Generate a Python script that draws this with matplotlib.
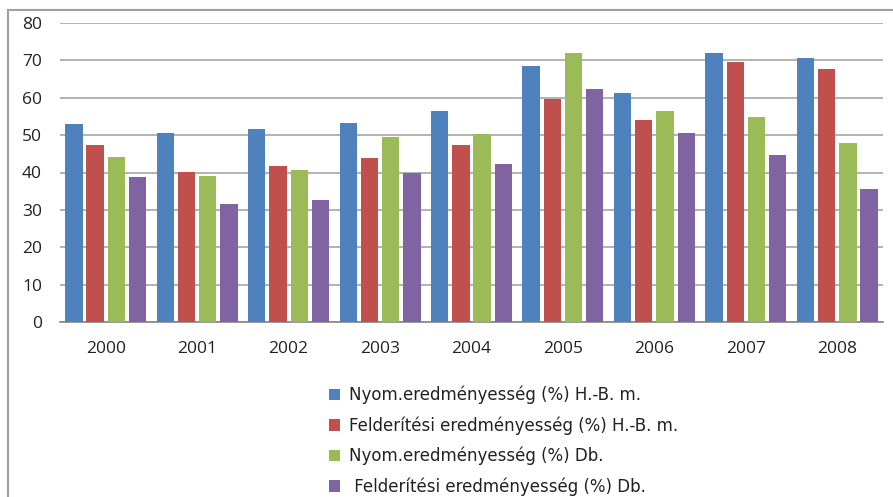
import matplotlib
matplotlib.use("Agg")
import matplotlib.pyplot as plt
from matplotlib.patches import Rectangle
import numpy as np

years = ["2000", "2001", "2002", "2003", "2004", "2005", "2006", "2007", "2008"]
nyom_hbm = [53.0, 50.6, 51.6, 53.2, 56.5, 68.5, 61.3, 72.0, 70.6]
feld_hbm = [47.4, 40.1, 41.7, 43.9, 47.4, 59.7, 54.0, 69.6, 67.7]
nyom_db = [44.1, 39.1, 40.7, 49.6, 50.3, 72.0, 56.5, 54.8, 47.9]
feld_db = [38.8, 31.6, 32.6, 39.9, 42.3, 62.3, 50.6, 44.7, 35.6]
labels = ["Nyom.eredményesség (%) H.-B. m.",
          "Felderítési eredményesség (%) H.-B. m.",
          "Nyom.eredményesség (%) Db.",
          " Felderítési eredményesség (%) Db."]
colors = ["#4F81BD", "#C0504D", "#9BBB59", "#8064A2"]
yticks = [0, 10, 20, 30, 40, 50, 60, 70, 80]

plt.rcParams['font.family'] = ['Open Sans', 'DejaVu Sans']

W, H = 893, 497
fig = plt.figure(figsize=(W / 100, H / 100), dpi=100)
ax = fig.add_axes([60 / W, 1 - 322 / H, 823 / W, 299 / H])

series = [nyom_hbm, feld_hbm, nyom_db, feld_db]
x = np.arange(len(years))
slot = 0.232
bw = 0.19
handles = []
for i, (vals, c, lab) in enumerate(zip(series, colors, labels)):
    off = (i - 1.5) * slot
    b = ax.bar(x + off, vals, width=bw, color=c, label=lab, zorder=3)
    handles.append(b)

ax.set_xlim(-0.5, len(years) - 0.5)
ax.set_ylim(0, 80)
ax.set_yticks(yticks)
ax.set_yticklabels([str(t) for t in yticks], fontsize=12.5, color="#222222")
ax.set_xticks(x)
ax.set_xticklabels(years, fontsize=12.5, color="#222222")
ax.tick_params(axis='x', length=0, pad=14)
ax.tick_params(axis='y', length=0, pad=13)
ax.yaxis.grid(True, color="#A6A6A6", linewidth=1.2, zorder=0)
ax.set_axisbelow(True)
for s in ["left", "right", "top"]:
    ax.spines[s].set_visible(False)
ax.spines["bottom"].set_color("#868686")
ax.spines["bottom"].set_linewidth(1.2)

# outer chart border
fig.patches.append(Rectangle((8 / W, -0.2), 1.2, 1 - 10 / H + 0.2,
                             transform=fig.transFigure, fill=False,
                             edgecolor="#A0A0A0", linewidth=1.5))

leg = fig.legend(handles=handles, labels=labels, loc="upper left",
                 bbox_to_anchor=(322 / W, 1 - 379 / H), frameon=False,
                 prop={'family': ['DejaVu Sans'], 'size': 12},
                 handlelength=0.7, handleheight=0.7,
                 handletextpad=0.5, labelspacing=0.72, borderaxespad=0)
for t in leg.get_texts():
    t.set_color("#222222")

fig.savefig("out.png", dpi=100)
